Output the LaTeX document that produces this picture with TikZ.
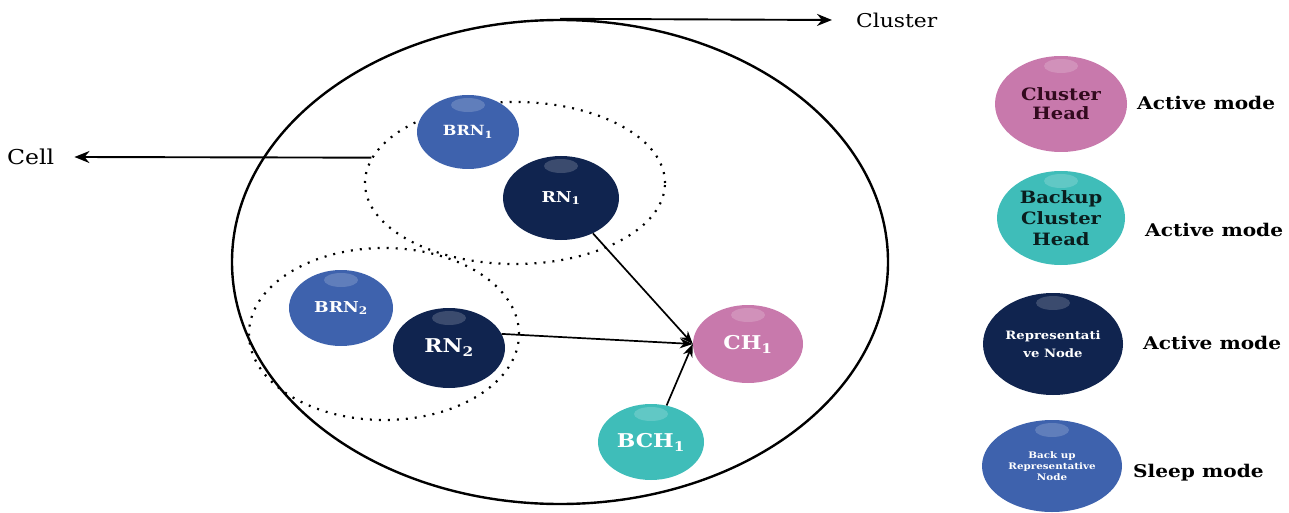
\documentclass[tikz,border=0pt]{standalone}
\usepackage{fontspec}
\setmainfont{DejaVu Serif}[FakeStretch=1.15]
\usetikzlibrary{shapes.geometric,arrows.meta}
\definecolor{brn}{HTML}{3E62AD}
\definecolor{rn}{HTML}{10244F}
\definecolor{chc}{HTML}{C879AC}
\definecolor{bch}{HTML}{3FBDB9}
\newcommand{\fs}[1]{\fontsize{#1}{#1}\selectfont}
\tikzset{
  blob/.style={ellipse, inner sep=0pt, align=center, font=\bfseries,
    path picture={\fill[white,opacity=0.18] ([yshift=-10pt]path picture bounding box.north) ellipse (17pt and 7pt);}},
  brnnode/.style={blob, fill=brn, text=white},
  rnnode/.style={blob, fill=rn, text=white},
  chnode/.style={blob, fill=chc, text=white},
  bchnode/.style={blob, fill=bch, text=white},
  dotc/.style={ellipse, draw, line width=2.2pt, dash pattern=on 2pt off 7pt},
  conn/.style={-{Stealth[length=13pt,width=10pt]}, line width=1.7pt},
  bigarrow/.style={-{Stealth[length=15pt,width=12pt]}, line width=1.9pt},
  modetxt/.style={anchor=west, font=\bfseries\fs{17.5}, inner sep=0pt},
}
\begin{document}
\begin{tikzpicture}[x=1pt,y=-1pt]
\useasboundingbox (0,0) rectangle (1289,513);
% cluster and cells
\node[ellipse, draw, line width=2.4pt, minimum width=656pt, minimum height=484pt, inner sep=0pt] (cluster) at (560,262) {};
\node[dotc, minimum width=300pt, minimum height=162pt] (cell1) at (515,183) {};
\node[dotc, minimum width=270pt, minimum height=172pt] (cell2) at (384,334) {};
% labels
\node[anchor=west, inner sep=0pt, font=\fs{19}] (clbl) at (856,20) {Cluster};
\node[anchor=west, inner sep=0pt, font=\fs{20.5}] (celllbl) at (7,157) {Cell};
\draw[bigarrow] (cluster.north) -- ([xshift=-24pt]clbl.west);
\draw[bigarrow] (cell1.170) -- ([xshift=20pt]celllbl.east);
% nodes
\node[brnnode, minimum width=102pt, minimum height=74pt, font=\bfseries\fs{14}] (BRN1) at (468,132) {BRN\textsubscript{1}};
\node[rnnode, minimum width=116pt, minimum height=84pt, font=\bfseries\fs{15}] (RN1) at (561,198) {RN\textsubscript{1}};
\node[brnnode, minimum width=104pt, minimum height=76pt, font=\bfseries\fs{15}] (BRN2) at (341,308) {BRN\textsubscript{2}};
\node[rnnode, minimum width=112pt, minimum height=80pt, font=\bfseries\fs{19}] (RN2) at (449,348) {RN\textsubscript{2}};
\node[chnode, minimum width=110pt, minimum height=78pt, font=\bfseries\fs{19}] (CH1) at (748,344) {CH\textsubscript{1}};
\node[bchnode, minimum width=106pt, minimum height=76pt, font=\bfseries\fs{19}] (BCH1) at (651,442) {BCH\textsubscript{1}};
% connectors
\draw[conn] (RN1) -- (CH1.west);
\draw[conn] (RN2.15) -- (CH1.west);
\draw[conn] (BCH1) -- (CH1.west);
% legend
\node[chnode, text={rgb,255:red,50;green,10;blue,30}, minimum width=132pt, minimum height=96pt, font=\bfseries\fs{17}] (LCH) at (1061,104) {Cluster\\[2pt]Head};
\node[bchnode, text={rgb,255:red,10;green,30;blue,30}, minimum width=128pt, minimum height=94pt, font=\bfseries\fs{17}] (LBCH) at (1061,218) {Backup\\[4pt]Cluster\\[4pt]Head};
\node[rnnode, minimum width=140pt, minimum height=102pt, font=\bfseries\fs{11.5}] (LRN) at (1053,344) {Representati\\[6pt]ve Node};
\node[brnnode, minimum width=140pt, minimum height=92pt, font=\bfseries\fs{9}] (LBRN) at (1052,466) {Back up\\[2pt]Representative\\[2pt]Node};
\node[modetxt] (m1) at (1137,103) {Active mode};
\node[modetxt] (m2) at (1145,230) {Active mode};
\node[modetxt] (m3) at (1143,343) {Active mode};
\node[modetxt] (m4) at (1133,473) {Sleep mode};
\end{tikzpicture}
\end{document}
